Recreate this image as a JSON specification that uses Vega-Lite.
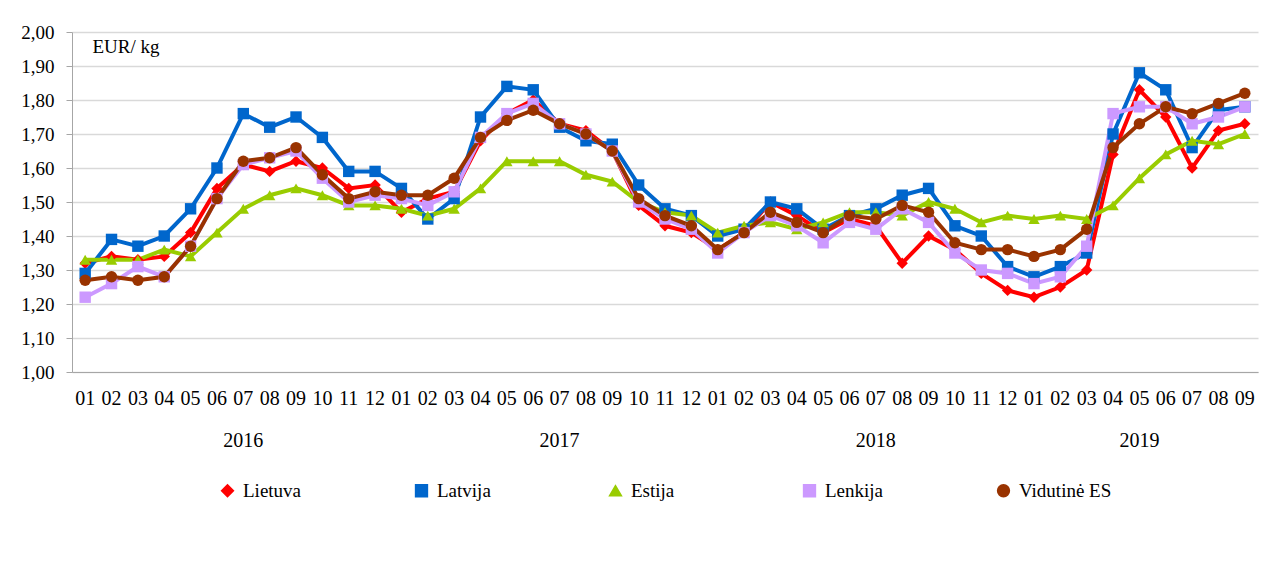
{
"$schema": "https://vega.github.io/schema/vega-lite/v6.json",
"width": 1286, "height": 581,
"autosize": {"type": "fit", "contains": "padding"},
"padding": {"left": 20, "top": 23, "right": 28, "bottom": 80},
"background": "white",
"config": {"font": "Liberation Serif", "view": {"stroke": null}, "legend": {"layout": {"bottom": {"anchor": "middle"}}}},
"datasets": {
"prices": [
{"p":"2016-01","s":"Lietuva","v":1.32},{"p":"2016-02","s":"Lietuva","v":1.34},{"p":"2016-03","s":"Lietuva","v":1.33},{"p":"2016-04","s":"Lietuva","v":1.34},{"p":"2016-05","s":"Lietuva","v":1.41},{"p":"2016-06","s":"Lietuva","v":1.54},{"p":"2016-07","s":"Lietuva","v":1.61},{"p":"2016-08","s":"Lietuva","v":1.59},{"p":"2016-09","s":"Lietuva","v":1.62},{"p":"2016-10","s":"Lietuva","v":1.60},{"p":"2016-11","s":"Lietuva","v":1.54},{"p":"2016-12","s":"Lietuva","v":1.55},
{"p":"2017-01","s":"Lietuva","v":1.47},{"p":"2017-02","s":"Lietuva","v":1.51},{"p":"2017-03","s":"Lietuva","v":1.53},{"p":"2017-04","s":"Lietuva","v":1.68},{"p":"2017-05","s":"Lietuva","v":1.76},{"p":"2017-06","s":"Lietuva","v":1.80},{"p":"2017-07","s":"Lietuva","v":1.73},{"p":"2017-08","s":"Lietuva","v":1.71},{"p":"2017-09","s":"Lietuva","v":1.65},{"p":"2017-10","s":"Lietuva","v":1.49},{"p":"2017-11","s":"Lietuva","v":1.43},{"p":"2017-12","s":"Lietuva","v":1.41},
{"p":"2018-01","s":"Lietuva","v":1.36},{"p":"2018-02","s":"Lietuva","v":1.41},{"p":"2018-03","s":"Lietuva","v":1.50},{"p":"2018-04","s":"Lietuva","v":1.46},{"p":"2018-05","s":"Lietuva","v":1.41},{"p":"2018-06","s":"Lietuva","v":1.45},{"p":"2018-07","s":"Lietuva","v":1.43},{"p":"2018-08","s":"Lietuva","v":1.32},{"p":"2018-09","s":"Lietuva","v":1.40},{"p":"2018-10","s":"Lietuva","v":1.36},{"p":"2018-11","s":"Lietuva","v":1.29},{"p":"2018-12","s":"Lietuva","v":1.24},
{"p":"2019-01","s":"Lietuva","v":1.22},{"p":"2019-02","s":"Lietuva","v":1.25},{"p":"2019-03","s":"Lietuva","v":1.30},{"p":"2019-04","s":"Lietuva","v":1.64},{"p":"2019-05","s":"Lietuva","v":1.83},{"p":"2019-06","s":"Lietuva","v":1.75},{"p":"2019-07","s":"Lietuva","v":1.60},{"p":"2019-08","s":"Lietuva","v":1.71},{"p":"2019-09","s":"Lietuva","v":1.73},
{"p":"2016-01","s":"Latvija","v":1.29},{"p":"2016-02","s":"Latvija","v":1.39},{"p":"2016-03","s":"Latvija","v":1.37},{"p":"2016-04","s":"Latvija","v":1.40},{"p":"2016-05","s":"Latvija","v":1.48},{"p":"2016-06","s":"Latvija","v":1.60},{"p":"2016-07","s":"Latvija","v":1.76},{"p":"2016-08","s":"Latvija","v":1.72},{"p":"2016-09","s":"Latvija","v":1.75},{"p":"2016-10","s":"Latvija","v":1.69},{"p":"2016-11","s":"Latvija","v":1.59},{"p":"2016-12","s":"Latvija","v":1.59},
{"p":"2017-01","s":"Latvija","v":1.54},{"p":"2017-02","s":"Latvija","v":1.45},{"p":"2017-03","s":"Latvija","v":1.51},{"p":"2017-04","s":"Latvija","v":1.75},{"p":"2017-05","s":"Latvija","v":1.84},{"p":"2017-06","s":"Latvija","v":1.83},{"p":"2017-07","s":"Latvija","v":1.72},{"p":"2017-08","s":"Latvija","v":1.68},{"p":"2017-09","s":"Latvija","v":1.67},{"p":"2017-10","s":"Latvija","v":1.55},{"p":"2017-11","s":"Latvija","v":1.48},{"p":"2017-12","s":"Latvija","v":1.46},
{"p":"2018-01","s":"Latvija","v":1.40},{"p":"2018-02","s":"Latvija","v":1.42},{"p":"2018-03","s":"Latvija","v":1.50},{"p":"2018-04","s":"Latvija","v":1.48},{"p":"2018-05","s":"Latvija","v":1.42},{"p":"2018-06","s":"Latvija","v":1.46},{"p":"2018-07","s":"Latvija","v":1.48},{"p":"2018-08","s":"Latvija","v":1.52},{"p":"2018-09","s":"Latvija","v":1.54},{"p":"2018-10","s":"Latvija","v":1.43},{"p":"2018-11","s":"Latvija","v":1.40},{"p":"2018-12","s":"Latvija","v":1.31},
{"p":"2019-01","s":"Latvija","v":1.28},{"p":"2019-02","s":"Latvija","v":1.31},{"p":"2019-03","s":"Latvija","v":1.35},{"p":"2019-04","s":"Latvija","v":1.70},{"p":"2019-05","s":"Latvija","v":1.88},{"p":"2019-06","s":"Latvija","v":1.83},{"p":"2019-07","s":"Latvija","v":1.66},{"p":"2019-08","s":"Latvija","v":1.77},{"p":"2019-09","s":"Latvija","v":1.78},
{"p":"2016-01","s":"Estija","v":1.33},{"p":"2016-02","s":"Estija","v":1.33},{"p":"2016-03","s":"Estija","v":1.33},{"p":"2016-04","s":"Estija","v":1.36},{"p":"2016-05","s":"Estija","v":1.34},{"p":"2016-06","s":"Estija","v":1.41},{"p":"2016-07","s":"Estija","v":1.48},{"p":"2016-08","s":"Estija","v":1.52},{"p":"2016-09","s":"Estija","v":1.54},{"p":"2016-10","s":"Estija","v":1.52},{"p":"2016-11","s":"Estija","v":1.49},{"p":"2016-12","s":"Estija","v":1.49},
{"p":"2017-01","s":"Estija","v":1.48},{"p":"2017-02","s":"Estija","v":1.46},{"p":"2017-03","s":"Estija","v":1.48},{"p":"2017-04","s":"Estija","v":1.54},{"p":"2017-05","s":"Estija","v":1.62},{"p":"2017-06","s":"Estija","v":1.62},{"p":"2017-07","s":"Estija","v":1.62},{"p":"2017-08","s":"Estija","v":1.58},{"p":"2017-09","s":"Estija","v":1.56},{"p":"2017-10","s":"Estija","v":1.50},{"p":"2017-11","s":"Estija","v":1.47},{"p":"2017-12","s":"Estija","v":1.46},
{"p":"2018-01","s":"Estija","v":1.41},{"p":"2018-02","s":"Estija","v":1.43},{"p":"2018-03","s":"Estija","v":1.44},{"p":"2018-04","s":"Estija","v":1.42},{"p":"2018-05","s":"Estija","v":1.44},{"p":"2018-06","s":"Estija","v":1.47},{"p":"2018-07","s":"Estija","v":1.47},{"p":"2018-08","s":"Estija","v":1.46},{"p":"2018-09","s":"Estija","v":1.50},{"p":"2018-10","s":"Estija","v":1.48},{"p":"2018-11","s":"Estija","v":1.44},{"p":"2018-12","s":"Estija","v":1.46},
{"p":"2019-01","s":"Estija","v":1.45},{"p":"2019-02","s":"Estija","v":1.46},{"p":"2019-03","s":"Estija","v":1.45},{"p":"2019-04","s":"Estija","v":1.49},{"p":"2019-05","s":"Estija","v":1.57},{"p":"2019-06","s":"Estija","v":1.64},{"p":"2019-07","s":"Estija","v":1.68},{"p":"2019-08","s":"Estija","v":1.67},{"p":"2019-09","s":"Estija","v":1.70},
{"p":"2016-01","s":"Lenkija","v":1.22},{"p":"2016-02","s":"Lenkija","v":1.26},{"p":"2016-03","s":"Lenkija","v":1.31},{"p":"2016-04","s":"Lenkija","v":1.28},{"p":"2016-05","s":"Lenkija","v":1.37},{"p":"2016-06","s":"Lenkija","v":1.51},{"p":"2016-07","s":"Lenkija","v":1.61},{"p":"2016-08","s":"Lenkija","v":1.63},{"p":"2016-09","s":"Lenkija","v":1.65},{"p":"2016-10","s":"Lenkija","v":1.57},{"p":"2016-11","s":"Lenkija","v":1.50},{"p":"2016-12","s":"Lenkija","v":1.52},
{"p":"2017-01","s":"Lenkija","v":1.51},{"p":"2017-02","s":"Lenkija","v":1.49},{"p":"2017-03","s":"Lenkija","v":1.53},{"p":"2017-04","s":"Lenkija","v":1.69},{"p":"2017-05","s":"Lenkija","v":1.76},{"p":"2017-06","s":"Lenkija","v":1.79},{"p":"2017-07","s":"Lenkija","v":1.73},{"p":"2017-08","s":"Lenkija","v":1.70},{"p":"2017-09","s":"Lenkija","v":1.65},{"p":"2017-10","s":"Lenkija","v":1.50},{"p":"2017-11","s":"Lenkija","v":1.45},{"p":"2017-12","s":"Lenkija","v":1.42},
{"p":"2018-01","s":"Lenkija","v":1.35},{"p":"2018-02","s":"Lenkija","v":1.41},{"p":"2018-03","s":"Lenkija","v":1.46},{"p":"2018-04","s":"Lenkija","v":1.43},{"p":"2018-05","s":"Lenkija","v":1.38},{"p":"2018-06","s":"Lenkija","v":1.44},{"p":"2018-07","s":"Lenkija","v":1.42},{"p":"2018-08","s":"Lenkija","v":1.48},{"p":"2018-09","s":"Lenkija","v":1.44},{"p":"2018-10","s":"Lenkija","v":1.35},{"p":"2018-11","s":"Lenkija","v":1.30},{"p":"2018-12","s":"Lenkija","v":1.29},
{"p":"2019-01","s":"Lenkija","v":1.26},{"p":"2019-02","s":"Lenkija","v":1.28},{"p":"2019-03","s":"Lenkija","v":1.37},{"p":"2019-04","s":"Lenkija","v":1.76},{"p":"2019-05","s":"Lenkija","v":1.78},{"p":"2019-06","s":"Lenkija","v":1.78},{"p":"2019-07","s":"Lenkija","v":1.73},{"p":"2019-08","s":"Lenkija","v":1.75},{"p":"2019-09","s":"Lenkija","v":1.78},
{"p":"2016-01","s":"Vidutinė ES","v":1.27},{"p":"2016-02","s":"Vidutinė ES","v":1.28},{"p":"2016-03","s":"Vidutinė ES","v":1.27},{"p":"2016-04","s":"Vidutinė ES","v":1.28},{"p":"2016-05","s":"Vidutinė ES","v":1.37},{"p":"2016-06","s":"Vidutinė ES","v":1.51},{"p":"2016-07","s":"Vidutinė ES","v":1.62},{"p":"2016-08","s":"Vidutinė ES","v":1.63},{"p":"2016-09","s":"Vidutinė ES","v":1.66},{"p":"2016-10","s":"Vidutinė ES","v":1.58},{"p":"2016-11","s":"Vidutinė ES","v":1.51},{"p":"2016-12","s":"Vidutinė ES","v":1.53},
{"p":"2017-01","s":"Vidutinė ES","v":1.52},{"p":"2017-02","s":"Vidutinė ES","v":1.52},{"p":"2017-03","s":"Vidutinė ES","v":1.57},{"p":"2017-04","s":"Vidutinė ES","v":1.69},{"p":"2017-05","s":"Vidutinė ES","v":1.74},{"p":"2017-06","s":"Vidutinė ES","v":1.77},{"p":"2017-07","s":"Vidutinė ES","v":1.73},{"p":"2017-08","s":"Vidutinė ES","v":1.70},{"p":"2017-09","s":"Vidutinė ES","v":1.65},{"p":"2017-10","s":"Vidutinė ES","v":1.51},{"p":"2017-11","s":"Vidutinė ES","v":1.46},{"p":"2017-12","s":"Vidutinė ES","v":1.43},
{"p":"2018-01","s":"Vidutinė ES","v":1.36},{"p":"2018-02","s":"Vidutinė ES","v":1.41},{"p":"2018-03","s":"Vidutinė ES","v":1.47},{"p":"2018-04","s":"Vidutinė ES","v":1.44},{"p":"2018-05","s":"Vidutinė ES","v":1.41},{"p":"2018-06","s":"Vidutinė ES","v":1.46},{"p":"2018-07","s":"Vidutinė ES","v":1.45},{"p":"2018-08","s":"Vidutinė ES","v":1.49},{"p":"2018-09","s":"Vidutinė ES","v":1.47},{"p":"2018-10","s":"Vidutinė ES","v":1.38},{"p":"2018-11","s":"Vidutinė ES","v":1.36},{"p":"2018-12","s":"Vidutinė ES","v":1.36},
{"p":"2019-01","s":"Vidutinė ES","v":1.34},{"p":"2019-02","s":"Vidutinė ES","v":1.36},{"p":"2019-03","s":"Vidutinė ES","v":1.42},{"p":"2019-04","s":"Vidutinė ES","v":1.66},{"p":"2019-05","s":"Vidutinė ES","v":1.73},{"p":"2019-06","s":"Vidutinė ES","v":1.78},{"p":"2019-07","s":"Vidutinė ES","v":1.76},{"p":"2019-08","s":"Vidutinė ES","v":1.79},{"p":"2019-09","s":"Vidutinė ES","v":1.82}
]
},
"data": {"name": "prices"},
"encoding": {
"x": {"field": "p", "type": "ordinal", "title": null,
 "scale": {"type": "band", "paddingInner": 0, "paddingOuter": 0},
 "axis": {"labelExpr": "slice(datum.value, 5) == '07' && slice(datum.value, 0, 4) != '2019' ? ['07', slice(datum.value, 0, 4) + '\u00a0\u00a0\u00a0\u00a0\u00a0'] : datum.value == '2019-05' ? ['05', '2019'] : slice(datum.value, 5)",
  "ticks": false, "domainColor": "#a6a6a6", "labelAngle": 0, "labelFontSize": 20, "labelColor": "black", "labelPadding": 16, "labelLineHeight": 42, "labelOverlap": false, "grid": false}},
"y": {"field": "v", "type": "quantitative",
 "scale": {"domain": [1, 2], "nice": false, "zero": false},
 "axis": {"values": [1, 1.1, 1.2, 1.3, 1.4, 1.5, 1.6, 1.7, 1.8, 1.9, 2], "tickCount": 20, "labelExpr": "replace(format(datum.value, '.2f'), '.', ',')", "tickSize": 6, "tickColor": "#a6a6a6", "domainColor": "#a6a6a6", "labelPadding": 12, "labelFontSize": 19, "labelColor": "black", "labelOverlap": false, "gridColor": "#d9d9d9", "gridWidth": 1.5,
  "title": "EUR/ kg", "titleAngle": 0, "titleX": 20, "titleY": 14, "titleAlign": "left", "titleBaseline": "middle", "titleFontSize": 19, "titleFontWeight": "normal", "titleColor": "black"}},
"color": {"field": "s", "type": "nominal", "title": null,
 "scale": {"domain": ["Lietuva", "Latvija", "Estija", "Lenkija", "Vidutinė ES"], "range": ["#ff0000", "#0066cc", "#99cc00", "#cc99ff", "#993300"]},
 "legend": {"orient": "bottom", "offset": 31, "direction": "horizontal", "columns": 5, "gridAlign": "all", "columnPadding": 76, "labelOffset": 6, "labelFontSize": 19, "labelColor": "black", "symbolSize": 140, "labelLimit": 300}},
"shape": {"field": "s", "type": "nominal", "title": null,
 "scale": {"domain": ["Lietuva", "Latvija", "Estija", "Lenkija", "Vidutinė ES"], "range": ["diamond", "square", "triangle-up", "square", "circle"]},
 "legend": {"orient": "bottom", "offset": 31, "direction": "horizontal", "columns": 5, "gridAlign": "all", "columnPadding": 76, "labelOffset": 6, "labelFontSize": 19, "labelColor": "black", "symbolSize": 140, "labelLimit": 300}}
},
"mark": {"type": "line", "strokeWidth": 4, "point": {"filled": true, "size": 130}}
}
